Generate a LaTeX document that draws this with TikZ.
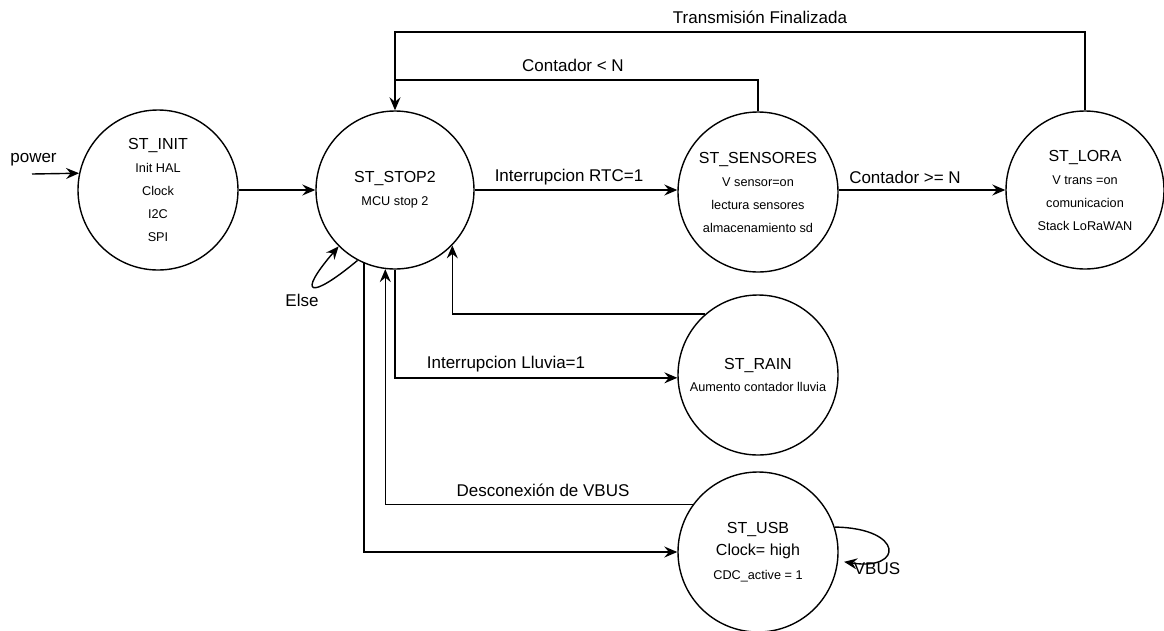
\documentclass[tikz,border=0pt]{standalone}
\usepackage{fontspec}
\setmainfont{Liberation Sans}
\usetikzlibrary{arrows.meta,calc}
\newcommand\sttitle[1]{{\fontsize{16}{19}\selectfont #1}}
\begin{document}
\begin{tikzpicture}[x=1pt,y=-1pt,
  fsmstate/.style={circle, draw, line width=1.4pt, minimum size=#1, inner sep=0pt,
    align=center, font=\fontsize{12.7}{23}\selectfont},
  lbl/.style={font=\fontsize{17}{20}\selectfont, inner sep=1pt},
  wire/.style={draw, line width=1.4pt},
  trans/.style={wire, -{Stealth[length=13pt,width=11pt,inset=4.5pt]}}]
\useasboundingbox (0,0) rectangle (1164,630);

% states
\node[fsmstate=160] (INIT) at (158,190) {\sttitle{ST\_INIT}\\ Init HAL\\ Clock\\ I2C\\ SPI};
\node[fsmstate=158] (STOP2) at (395,190) {\sttitle{ST\_STOP2}\\ MCU stop 2};
\node[fsmstate=160] (SENS) at (758,192) {\sttitle{ST\_SENSORES}\\ V sensor=on\\ lectura sensores\\ almacenamiento sd};
\node[fsmstate=158] (LORA) at (1085,190) {\sttitle{ST\_LORA}\\ V trans =on\\ comunicacion\\ Stack LoRaWAN};
\node[fsmstate=160] (RAIN) at (758,375) {\sttitle{ST\_RAIN}\\[-1pt] Aumento contador lluvia};
\node[fsmstate=160] (USB) at (758,552) {\sttitle{ST\_USB}\\[-1pt] \sttitle{Clock= high}\\[1pt] CDC\_active = 1};

% entry
\coordinate (pw) at (32,174);
\draw[trans] (pw) -- (INIT.168.5);
\node[lbl] (lpw) at (33.5,160) {power};

% main row
\draw[trans] (INIT.east) -- (STOP2.west);
\draw[trans] (STOP2.east) -- (STOP2.east -| SENS.west);
\node[lbl] (lrtc) at (569,177) {Interrupcion RTC=1};
\draw[trans] (LORA.west -| SENS.east) -- (LORA.west);
\node[lbl] (lge) at (905,177) {Contador >= N};

% returns over the top
\coordinate (topA) at (395,32);
\coordinate (topB) at (395,80);
\draw[trans] (LORA.north) |- (topA) -- (STOP2.north);
\draw[wire] (SENS.north) |- (topB);
\node[lbl] (ltx) at (760,17) {Transmisión Finalizada};
\node[lbl] (llt) at (573,65) {Contador < N};

% self loop on STOP2
\draw[trans] (STOP2.242) .. controls (310,300) and (296,296) .. (STOP2.225);
\node[lbl] (lelse) at (302,300) {Else};

% rain branch
\draw[trans] (STOP2.south) |- (RAIN.182);
\node[lbl] (lrain) at (506,364) {Interrupcion Lluvia=1};
\draw[trans] (RAIN.131) -| (STOP2.316);

% usb branch
\draw[trans] (STOP2.247) |- (USB.west);
\draw[trans] (USB.144) -| (STOP2.263.5);
\node[lbl] (lvb) at (543,490) {Desconexión de VBUS};
\coordinate (usbend) at ($(USB.-7)+(6,0)$);
\draw[trans] (USB.18.7) .. controls (904,528) and (904,571) .. (usbend);
\node[lbl] (lvbus) at (877,569) {VBUS};
\end{tikzpicture}
\end{document}
